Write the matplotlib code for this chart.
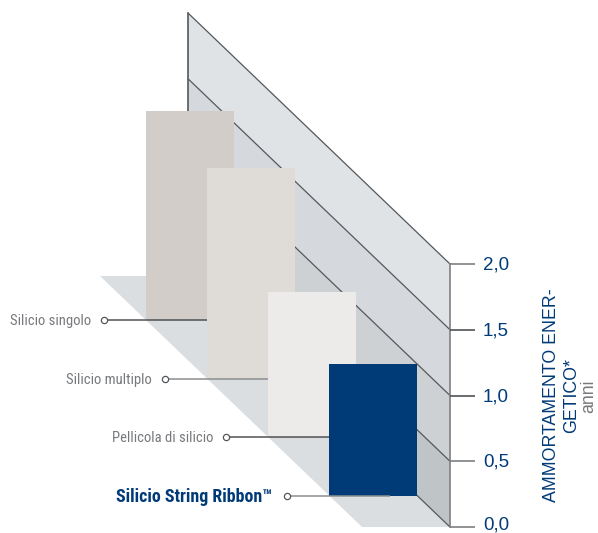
import matplotlib
matplotlib.use("Agg")
import matplotlib.pyplot as plt

categories = ["Silicio singolo", "Silicio multiplo", "Pellicola di silicio", "Silicio String Ribbon™"]
values = [1.59, 1.60, 1.105, 1.005]
tick_values = [0.0, 0.5, 1.0, 1.5, 2.0]
tick_labels = ["0,0", "0,5", "1,0", "1,5", "2,0"]
bar_colors = ["#d2cdc8", "#dfdbd7", "#ecebe9", "#003b78"]
band_colors = ["#bfc4c7", "#cdd1d4", "#d5d8dd", "#e0e3e6"]
bar_depth = [0.0, 1.0, 2.0, 3.0]

W, H = 598, 533
NAVY = "#003b78"
GREY = "#7d7f82"
DARK = "#4f5254"
UNIT = 131.5        # pixels per unit of value
Y0 = 527            # pixel row of value 0

fig = plt.figure(figsize=(W / 100, H / 100), dpi=100)
ax = fig.add_axes([0, 0, 1, 1])
ax.set_xlim(0, W)
ax.set_ylim((Y0 - H) / UNIT, Y0 / UNIT)
ax.axis("off")

# oblique layout: the front plane sits at x = 450, the back wall at x = 188
AX_X, BACK_X = 450, 188
DROP = 251 / UNIT   # how far the wall rises from front to back

# wall bands
for v0, v1, c in zip(tick_values[:-1], tick_values[1:], band_colors):
    ax.fill([BACK_X, AX_X, AX_X, BACK_X], [v0 + DROP, v0, v1, v1 + DROP],
            color=c, lw=0, zorder=1)
# floor
ax.fill([100, BACK_X, AX_X, 362], [DROP, DROP, 0, 0], color="#dbdee1", lw=0, zorder=1.5)

# wall lines
for v in tick_values:
    ax.plot([BACK_X, AX_X], [v + DROP, v], color="#55585b", lw=0.9, zorder=2,
            solid_capstyle="butt")
ax.plot([BACK_X, BACK_X], [DROP, 2 + DROP], color="#55585b", lw=1.2, zorder=2)
ax.plot([AX_X, AX_X], [0, 2], color=GREY, lw=1.2, zorder=2)

# ticks and tick labels
for v, lab, c in zip(tick_values, tick_labels, [GREY, GREY, DARK, DARK, GREY]):
    ax.plot([AX_X, 475], [v, v], color=c, lw=1.2, zorder=2, solid_capstyle="butt")
    nudge = 2 if v == 0 else -1
    ax.text(483, v + nudge / UNIT, lab, color=NAVY, fontsize=13.5, family="Liberation Sans",
            ha="left", va="center", zorder=5)

# bars, each one stepped forward along the floor
BAR_W = 88
START_X, STEP_X = 190, 61
START_B, STEP_B = (Y0 - 320) / UNIT, 58.7 / UNIT
for d, val, c in zip(bar_depth, values, bar_colors):
    ax.bar(START_X + d * STEP_X, val, width=BAR_W, bottom=START_B - d * STEP_B,
           color=c, lw=0, zorder=3 + d)

# leaders and labels
line_colors = [DARK, "#8c8e90", DARK, "#8c8e90"]
for d, cat, lc in zip(bar_depth, categories, line_colors):
    y = START_B - d * STEP_B
    cx = START_X + d * STEP_X
    ax.plot([cx - 86, cx + 17], [y, y], color=lc, lw=1.1,
            zorder=3.5 + d, solid_capstyle="butt")
    ax.plot([cx - 86], [y], "o", ms=4.5, mfc="white", mec="#55585b", mew=0.9, zorder=8)
    bold = d == 3
    ax.text(cx - 99 + (-2 if bold else 0), y - 1 / UNIT, cat, ha="right", va="center",
            family="Roboto Condensed", fontsize=12.9 if bold else 10.5,
            fontweight="bold" if bold else "normal",
            color=NAVY if bold else "#77797c", zorder=8)

# axis title
ax.text(551, (Y0 - 395.5) / UNIT, "AMMORTAMENTO ENER-", rotation=90, ha="center", va="center",
        color=NAVY, fontsize=12.8, family="Liberation Sans")
ax.text(572, (Y0 - 395.5) / UNIT, "GETICO*", rotation=90, ha="center", va="center",
        color=NAVY, fontsize=12.8, family="Liberation Sans")
ax.text(589, (Y0 - 396) / UNIT, "anni", rotation=90, ha="center", va="center",
        color="#77797c", fontsize=12.8, family="Liberation Sans")

fig.savefig("out.png", dpi=100)
